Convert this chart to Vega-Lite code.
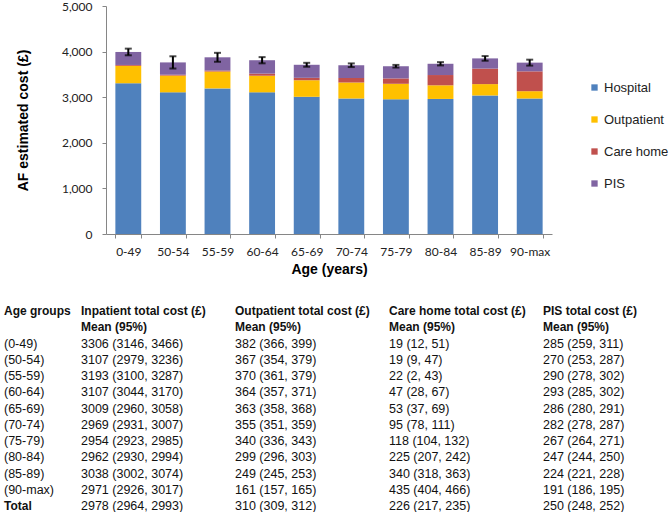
{
  "$schema": "https://vega.github.io/schema/vega-lite/v6.json",
  "padding": {"left": 4, "top": 0, "right": 0, "bottom": 0},
  "background": "white",
  "spacing": 29,
  "config": {"view": {"stroke": null}, "font": "Liberation Sans"},
  "datasets": {
    "costs": [
      {"age": "0-49", "Hospital": 3306, "Outpatient": 382, "Care home": 19, "PIS": 285, "errLo": 3919, "errHi": 4065},
      {"age": "50-54", "Hospital": 3107, "Outpatient": 367, "Care home": 19, "PIS": 270, "errLo": 3629, "errHi": 3897},
      {"age": "55-59", "Hospital": 3193, "Outpatient": 370, "Care home": 22, "PIS": 290, "errLo": 3777, "errHi": 3973},
      {"age": "60-64", "Hospital": 3107, "Outpatient": 364, "Care home": 47, "PIS": 293, "errLo": 3743, "errHi": 3879},
      {"age": "65-69", "Hospital": 3009, "Outpatient": 363, "Care home": 53, "PIS": 286, "errLo": 3668, "errHi": 3754},
      {"age": "70-74", "Hospital": 2969, "Outpatient": 355, "Care home": 95, "PIS": 282, "errLo": 3661, "errHi": 3741},
      {"age": "75-79", "Hospital": 2954, "Outpatient": 340, "Care home": 118, "PIS": 267, "errLo": 3650, "errHi": 3708},
      {"age": "80-84", "Hospital": 2962, "Outpatient": 299, "Care home": 225, "PIS": 247, "errLo": 3697, "errHi": 3769},
      {"age": "85-89", "Hospital": 3038, "Outpatient": 249, "Care home": 340, "PIS": 224, "errLo": 3800, "errHi": 3902},
      {"age": "90-max", "Hospital": 2971, "Outpatient": 161, "Care home": 435, "PIS": 191, "errLo": 3693, "errHi": 3823}
    ],
    "parts": [
      {"part": "Hospital", "rank": 1},
      {"part": "Outpatient", "rank": 2},
      {"part": "Care home", "rank": 3},
      {"part": "PIS", "rank": 4}
    ],
    "table": [
      {"group": "Age groups", "inp": "Inpatient total cost (£)", "out": "Outpatient total cost (£)", "care": "Care home total cost (£)", "pis": "PIS total cost (£)"},
      {"group": " ", "inp": "Mean (95%)", "out": "Mean (95%)", "care": "Mean (95%)", "pis": "Mean (95%)"},
      {"group": "(0-49)", "inp": "3306 (3146, 3466)", "out": "382 (366, 399)", "care": "19 (12, 51)", "pis": "285 (259, 311)"},
      {"group": "(50-54)", "inp": "3107 (2979, 3236)", "out": "367 (354, 379)", "care": "19 (9, 47)", "pis": "270 (253, 287)"},
      {"group": "(55-59)", "inp": "3193 (3100, 3287)", "out": "370 (361, 379)", "care": "22 (2, 43)", "pis": "290 (278, 302)"},
      {"group": "(60-64)", "inp": "3107 (3044, 3170)", "out": "364 (357, 371)", "care": "47 (28, 67)", "pis": "293 (285, 302)"},
      {"group": "(65-69)", "inp": "3009 (2960, 3058)", "out": "363 (358, 368)", "care": "53 (37, 69)", "pis": "286 (280, 291)"},
      {"group": "(70-74)", "inp": "2969 (2931, 3007)", "out": "355 (351, 359)", "care": "95 (78, 111)", "pis": "282 (278, 287)"},
      {"group": "(75-79)", "inp": "2954 (2923, 2985)", "out": "340 (336, 343)", "care": "118 (104, 132)", "pis": "267 (264, 271)"},
      {"group": "(80-84)", "inp": "2962 (2930, 2994)", "out": "299 (296, 303)", "care": "225 (207, 242)", "pis": "247 (244, 250)"},
      {"group": "(85-89)", "inp": "3038 (3002, 3074)", "out": "249 (245, 253)", "care": "340 (318, 363)", "pis": "224 (221, 228)"},
      {"group": "(90-max)", "inp": "2971 (2926, 3017)", "out": "161 (157, 165)", "care": "435 (404, 466)", "pis": "191 (186, 195)"},
      {"group": "Total", "inp": "2978 (2964, 2993)", "out": "310 (309, 312)", "care": "226 (217, 235)", "pis": "250 (248, 252)"}
    ]
  },
  "vconcat": [
    {
      "width": 446,
      "height": 228,
      "data": {"name": "costs"},
      "layer": [
        {
          "transform": [
            {"fold": ["Hospital", "Outpatient", "Care home", "PIS"], "as": ["part", "cost"]},
            {"lookup": "part", "from": {"data": {"name": "parts"}, "key": "part", "fields": ["rank"]}}
          ],
          "mark": {"type": "bar"},
          "encoding": {
            "x": {
              "field": "age", "type": "nominal", "title": "Age (years)",
              "scale": {"paddingInner": 0.42, "paddingOuter": 0.21},
              "axis": {"labelAngle": 0, "tickBand": "extent", "domainColor": "#868686", "tickColor": "#868686", "tickSize": 4,
                       "labelPadding": 8, "labelFont": "Lato", "labelFontSize": 12, "labelColor": "#222",
                       "titleFont": "Liberation Sans", "titleFontSize": 14, "titleFontWeight": "bold", "titleColor": "#000", "titlePadding": 5}
            },
            "y": {
              "field": "cost", "type": "quantitative", "stack": "zero", "title": "AF estimated cost (£)",
              "scale": {"domain": [0, 5000]},
              "axis": {"values": [0, 1000, 2000, 3000, 4000, 5000], "format": ",d", "grid": false, "domainColor": "#868686", "tickColor": "#868686",
                       "tickSize": 4, "labelPadding": 10, "labelFont": "Lato", "labelFontSize": 12, "labelColor": "#222",
                       "titleFont": "Liberation Sans", "titleFontSize": 14, "titleFontWeight": "bold", "titleColor": "#000", "titlePadding": 31}
            },
            "order": {"field": "rank", "type": "quantitative", "sort": "ascending"},
            "color": {
              "field": "part", "type": "nominal",
              "scale": {"domain": ["Hospital", "Outpatient", "Care home", "PIS"], "range": ["#4F81BD", "#FFC000", "#C0504D", "#8064A2"]},
              "legend": {"title": null, "orient": "none", "legendX": 482, "legendY": 75, "symbolType": "square", "symbolSize": 40,
                         "symbolStrokeWidth": 0, "labelFont": "Liberation Sans", "labelFontSize": 13, "labelColor": "#222", "rowPadding": 18, "labelOffset": 3, "padding": 0}
            }
          }
        },
        {
          "mark": {"type": "errorbar", "ticks": {"size": 7, "thickness": 2, "color": "#000"}, "rule": {"strokeWidth": 2, "color": "#000"}},
          "encoding": {
            "x": {"field": "age", "type": "nominal", "title": "Age (years)"},
            "y": {"field": "errLo", "type": "quantitative", "title": "AF estimated cost (£)"},
            "y2": {"field": "errHi"}
          }
        }
      ]
    },
    {
      "width": 440,
      "height": 195,
      "data": {"name": "table"},
      "transform": [{"fold": ["group", "inp", "out", "care", "pis"], "as": ["col", "txt"]}],
      "encoding": {
        "x": {"field": "col", "type": "nominal", "axis": null,
              "scale": {"type": "point", "domain": ["group", "inp", "s1", "out", "s2", "care", "s3", "pis"], "range": [-102, 437], "padding": 0}},
        "y": {"field": "group", "type": "nominal", "axis": null,
              "scale": {"type": "point", "domain": ["Age groups", " ", "(0-49)", "(50-54)", "(55-59)", "(60-64)", "(65-69)", "(70-74)", "(75-79)", "(80-84)", "(85-89)", "(90-max)", "Total"], "range": [0, 195], "padding": 0}},
        "text": {"field": "txt"}
      },
      "layer": [
        {
          "transform": [{"filter": "datum.group != 'Age groups' && datum.group != ' ' && !(datum.group == 'Total' && datum.col == 'group')"}],
          "mark": {"type": "text", "align": "left", "baseline": "middle", "fontSize": 12.5, "color": "#111"}
        },
        {
          "transform": [{"filter": "datum.group == 'Age groups' || datum.group == ' ' || (datum.group == 'Total' && datum.col == 'group')"}],
          "mark": {"type": "text", "align": "left", "baseline": "middle", "fontSize": 12, "fontWeight": "bold", "color": "#111"}
        }
      ]
    }
  ]
}
